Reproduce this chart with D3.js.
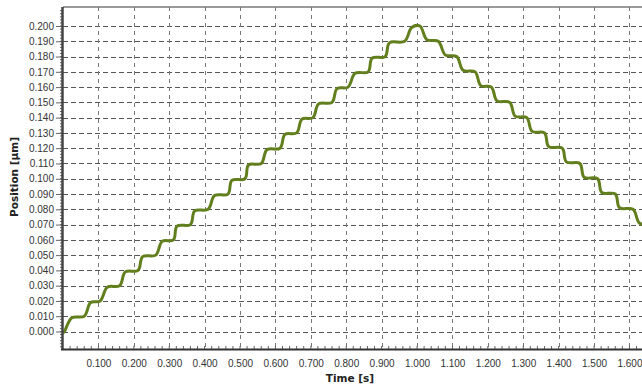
<!DOCTYPE html>
<html>
<head>
  <meta charset="utf-8">
  <title>Position vs Time</title>
  <script src="https://d3js.org/d3.v7.min.js"></script>
  <style>
    body { margin: 0; background: #fff; }
    svg { display: block; font-family: "DejaVu Sans", Verdana, sans-serif; }
    .tick-label { font-size: 10px; fill: #333; }
    .axis-title { font-size: 10.5px; font-weight: bold; fill: #222; }
  </style>
</head>
<body>
<svg id="chart" width="642" height="386"></svg>
<script>
  // tick labels
  const yTicks = [0.000, 0.010, 0.020, 0.030, 0.040, 0.050, 0.060, 0.070, 0.080, 0.090, 0.100,
                  0.110, 0.120, 0.130, 0.140, 0.150, 0.160, 0.170, 0.180, 0.190, 0.200];
  const xTicks = [0.1, 0.2, 0.3, 0.4, 0.5, 0.6, 0.7, 0.8, 0.9, 1.0, 1.1, 1.2, 1.3, 1.4, 1.5, 1.6];

  const timeS = [
    0.000, 0.004,
    0.025, 0.060, 0.078, 0.105, 0.125, 0.160, 0.176, 0.212, 0.225, 0.262,
    0.280, 0.312, 0.322, 0.360, 0.372, 0.410, 0.428, 0.466, 0.477, 0.514,
    0.524, 0.560, 0.576, 0.613, 0.627, 0.660, 0.675, 0.706, 0.722, 0.760,
    0.774, 0.805, 0.825, 0.862, 0.873, 0.910, 0.922, 0.965, 0.985, 1.008,
    1.028, 1.060, 1.080, 1.112, 1.130, 1.164, 1.180, 1.210, 1.226, 1.262,
    1.277, 1.310, 1.325, 1.360, 1.372, 1.410, 1.422, 1.460, 1.472, 1.510,
    1.522, 1.560, 1.572, 1.610, 1.628, 1.650
  ];
  const positionUm = [
    -0.001, 0.000,
    0.009, 0.010, 0.019, 0.020, 0.029, 0.030, 0.039, 0.040, 0.049, 0.050,
    0.059, 0.060, 0.069, 0.070, 0.079, 0.080, 0.089, 0.090, 0.099, 0.100,
    0.109, 0.110, 0.119, 0.120, 0.129, 0.130, 0.139, 0.140, 0.149, 0.150,
    0.159, 0.160, 0.169, 0.170, 0.179, 0.180, 0.189, 0.190, 0.199, 0.200,
    0.191, 0.190, 0.181, 0.180, 0.171, 0.170, 0.161, 0.160, 0.151, 0.150,
    0.141, 0.140, 0.131, 0.130, 0.121, 0.120, 0.111, 0.110, 0.101, 0.100,
    0.091, 0.090, 0.081, 0.080, 0.071, 0.070
  ];

  const plot = { left: 63, top: 7, right: 642, bottom: 349 };

  const svg = d3.select("#chart");

  const x = d3.scaleLinear().domain([0, 1.64]).range([63, 643.6]);
  const y = d3.scaleLinear().domain([0, 0.2]).range([331.5, 26]);

  svg.append("defs").append("clipPath").attr("id", "clip")
    .append("rect")
    .attr("x", plot.left).attr("y", plot.top)
    .attr("width", plot.right - plot.left).attr("height", plot.bottom - plot.top);

  // grid
  const grid = svg.append("g");
  grid.selectAll(".hgrid")
    .data(yTicks)
    .join("line")
    .attr("x1", plot.left).attr("x2", plot.right)
    .attr("y1", d => Math.round(y(d)) + 0.5).attr("y2", d => Math.round(y(d)) + 0.5)
    .attr("stroke", "#555").attr("stroke-width", 1)
    .attr("stroke-dasharray", "5,3");
  grid.selectAll(".vgrid")
    .data(xTicks)
    .join("line")
    .attr("x1", d => Math.round(x(d)) + 0.5).attr("x2", d => Math.round(x(d)) + 0.5)
    .attr("y1", plot.top).attr("y2", plot.bottom)
    .attr("stroke", "#777").attr("stroke-width", 1)
    .attr("stroke-dasharray", "4,4");

  // the curve
  const data = timeS.map((t, i) => ({ t: t, p: positionUm[i] }));
  const line = d3.line()
    .x(d => x(d.t))
    .y(d => y(d.p))
    .curve(d3.curveCatmullRom.alpha(0.5));

  svg.append("path")
    .datum(data)
    .attr("clip-path", "url(#clip)")
    .attr("fill", "none")
    .attr("stroke", "#617f1c")
    .attr("stroke-width", 3)
    .attr("stroke-linejoin", "round")
    .attr("d", line);

  // frame: top border
  svg.append("line")
    .attr("x1", plot.left).attr("x2", plot.right)
    .attr("y1", plot.top).attr("y2", plot.top)
    .attr("stroke", "#777").attr("stroke-width", 1.5);

  // y axis
  const yAxis = d3.axisLeft(y)
    .tickValues(yTicks)
    .tickFormat(d3.format(".3f"))
    .tickSize(7)
    .tickPadding(2);
  const yg = svg.append("g")
    .attr("transform", `translate(${plot.left},0)`)
    .call(yAxis);
  yg.select(".domain").remove();
  yg.selectAll(".tick line").attr("stroke", "#666");
  yg.selectAll(".tick text").attr("class", "tick-label").attr("font-family", null).attr("font-size", null);

  // minor ticks on the left axis
  const yMinor = d3.range(-5, 106).map(i => i * 0.002);
  svg.append("g").selectAll("line")
    .data(yMinor.filter(v => y(v) > plot.top && y(v) < plot.bottom))
    .join("line")
    .attr("x1", plot.left - 3).attr("x2", plot.left)
    .attr("y1", d => y(d)).attr("y2", d => y(d))
    .attr("stroke", "#666").attr("stroke-width", 1);

  svg.append("line")
    .attr("x1", plot.left - 0.5).attr("x2", plot.left - 0.5)
    .attr("y1", plot.top).attr("y2", plot.bottom + 1)
    .attr("stroke", "#444").attr("stroke-width", 2.5);

  // x axis
  const xAxis = d3.axisBottom(x)
    .tickValues(xTicks)
    .tickFormat(d3.format(".3f"))
    .tickSize(0)
    .tickPadding(11);
  const xg = svg.append("g")
    .attr("transform", `translate(0,${plot.bottom})`)
    .call(xAxis);
  xg.select(".domain").remove();
  xg.selectAll(".tick text").attr("class", "tick-label").attr("font-family", null).attr("font-size", null);

  const xMinor = d3.range(1, 83).map(i => i * 0.02);
  svg.append("g").selectAll("line")
    .data(xMinor.filter(v => x(v) < plot.right))
    .join("line")
    .attr("x1", d => x(d)).attr("x2", d => x(d))
    .attr("y1", plot.bottom - 3).attr("y2", plot.bottom)
    .attr("stroke", "#666").attr("stroke-width", 1);

  svg.append("line")
    .attr("x1", plot.left - 2).attr("x2", plot.right)
    .attr("y1", plot.bottom + 0.5).attr("y2", plot.bottom + 0.5)
    .attr("stroke", "#333").attr("stroke-width", 2);

  // axis titles
  svg.append("text")
    .attr("class", "axis-title")
    .attr("x", 350).attr("y", 382)
    .attr("text-anchor", "middle")
    .text("Time [s]");

  svg.append("text")
    .attr("class", "axis-title")
    .attr("transform", "translate(18,177) rotate(-90)")
    .attr("text-anchor", "middle")
    .text("Position [µm]");
</script>
</body>
</html>
